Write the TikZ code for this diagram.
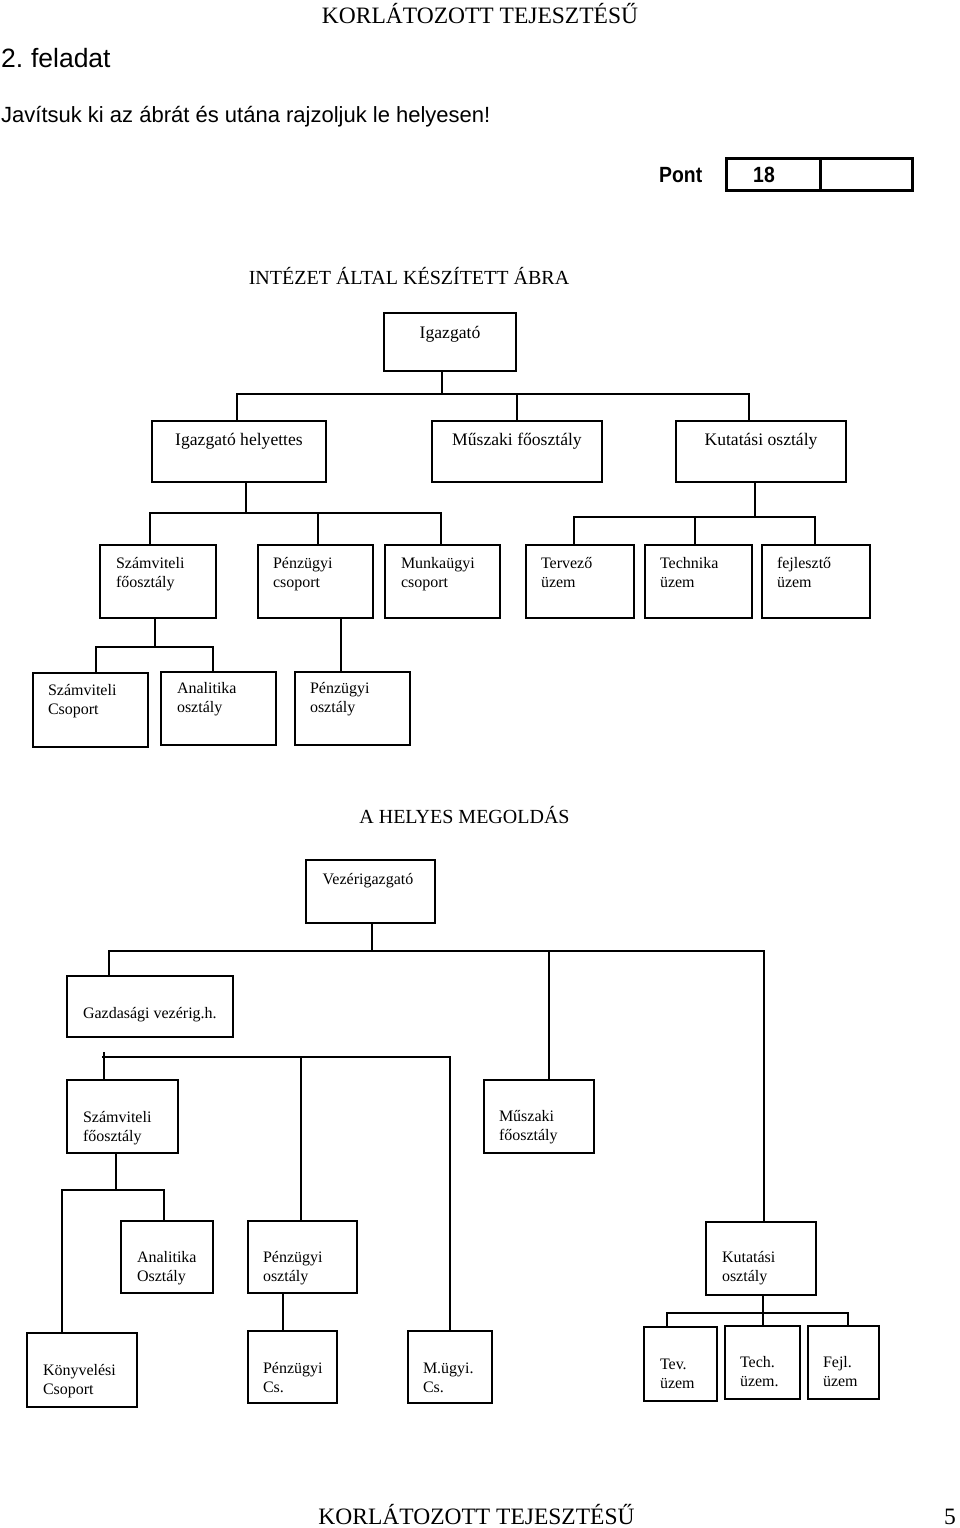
\documentclass[tikz,border=0pt]{standalone}
\usepackage{fontspec}
\setmainfont{Liberation Serif}
\newfontfamily\arialf{Liberation Sans}
\newcommand\twol[2]{\vtop{\hbox{#1}\hbox{#2}}}
\newcommand\bx[5]{\node[box, anchor=north west, minimum width={(#4-#2)*1pt}, minimum height={(#5-#3)*1pt}] (#1) at (#2,#3) {};}
\begin{document}
\begin{tikzpicture}[x=1pt,y=-1pt,
  box/.style={draw, line width=2.1pt, inner sep=0pt, outer sep=0pt},
  conn/.style={line width=1.9pt},
  big/.style={inner sep=0pt, outer sep=0pt, anchor=base, font=\fontsize{17.6}{21}\selectfont},
  lbl/.style={inner sep=0pt, outer sep=0pt, anchor=base west, font=\fontsize{16}{19}\selectfont},
  ttl/.style={inner sep=0pt, outer sep=0pt, anchor=base, font=\fontsize{20}{20}\selectfont},
  hdr/.style={inner sep=0pt, outer sep=0pt, anchor=base, font=\fontsize{23.5}{23.5}\selectfont}]
\useasboundingbox (0,0) rectangle (960,1528);

% header and footer
\node[hdr] (head) at (480,24) {KORLÁTOZOTT TEJESZTÉSŰ};
\node[hdr] (foot) at (476.5,1524) {KORLÁTOZOTT TEJESZTÉSŰ};
\node[hdr] (pnum) at (950,1524) {5};
\node[inner sep=0pt, anchor=base west, font=\arialf\fontsize{26.5}{26.5}\selectfont] (task) at (1,67) {\spaceskip=0.2em\relax 2. feladat};
\node[inner sep=0pt, anchor=base west, font=\arialf\fontsize{22}{22}\selectfont] (instr) at (1,122) {Javítsuk ki az ábrát és utána rajzoljuk le helyesen!};
\node[inner sep=0pt, anchor=base west, font=\arialf\bfseries\fontsize{22}{22}\selectfont] (pont) at (659,182) {\scalebox{0.88}[1]{Pont}};
\node[draw, line width=2.6pt, inner sep=0pt, anchor=north west, minimum width=94pt, minimum height=32pt] (pb1) at (725,157) {};
\node[draw, line width=2.6pt, inner sep=0pt, anchor=north west, minimum width=92pt, minimum height=32pt] (pb2) at (819,157) {};
\node[inner sep=0pt, anchor=base, font=\arialf\bfseries\fontsize{22}{22}\selectfont] (pts) at (764,182) {\scalebox{0.88}[1]{18}};

% ===== first diagram =====
\node[ttl] (t1) at (409,284.5) {INTÉZET ÁLTAL KÉSZÍTETT ÁBRA};
\bx{igz}{384}{313}{516}{371}
\bx{ih}{152}{421}{326}{482}
\bx{msz}{432}{421}{602}{482}
\bx{kut}{676}{421}{846}{482}
\bx{szf}{100}{545}{216}{618}
\bx{pcs}{258}{545}{373}{618}
\bx{mcs}{385}{545}{500}{618}
\bx{terv}{526}{545}{634}{618}
\bx{tech}{645}{545}{752}{618}
\bx{fejl}{762}{545}{870}{618}
\bx{szcs}{33}{673}{148}{747}
\bx{ana}{161}{672}{276}{745}
\bx{posz}{295}{672}{410}{745}

\node[big] at (450,338.5) {Igazgató};
\node[big] at (239,445.5) {Igazgató helyettes};
\node[big] at (517,445.5) {Műszaki főosztály};
\node[big] at (761,445.5) {Kutatási osztály};
\node[lbl] at (116,568) {\twol{Számviteli}{főosztály}};
\node[lbl] at (273,568) {\twol{Pénzügyi}{csoport}};
\node[lbl] at (401,568) {\twol{Munkaügyi}{csoport}};
\node[lbl] at (541,568) {\twol{Tervező}{üzem}};
\node[lbl] at (660,568) {\twol{Technika}{üzem}};
\node[lbl] at (777,568) {\twol{fejlesztő}{üzem}};
\node[lbl] at (48,695) {\twol{Számviteli}{Csoport}};
\node[lbl] at (177,693) {\twol{Analitika}{osztály}};
\node[lbl] at (310,693) {\twol{Pénzügyi}{osztály}};

\coordinate (j1) at (442,394);
\draw[conn] (igz.south -| j1) -- (j1);
\draw[conn] (ih.north -| 237,0) |- (j1) -| (kut.north -| 749,0);
\draw[conn] (msz.north) -- (msz.north |- j1);

\coordinate (j2) at (246,513);
\draw[conn] (ih.south -| j2) -- (j2);
\draw[conn] (szf.north -| 150,0) |- (j2) -| (mcs.north -| 441,0);
\draw[conn] (pcs.north -| 318,0) -- (318,513);

\coordinate (j3) at (755,517);
\draw[conn] (kut.south -| j3) -- (j3);
\draw[conn] (terv.north -| 574,0) |- (j3) -| (fejl.north -| 815,0);
\draw[conn] (tech.north -| 695,0) -- (695,517);

\coordinate (j4) at (155,647);
\draw[conn] (szf.south -| j4) -- (j4);
\draw[conn] (szcs.north -| 96,0) |- (j4) -| (ana.north -| 213,0);
\draw[conn] (pcs.south -| 341,0) -- (posz.north -| 341,0);

% ===== second diagram =====
\node[ttl] (t2) at (464.5,823.5) {A HELYES MEGOLDÁS};
\bx{vez}{306}{860}{435}{923}
\bx{gazd}{67}{976}{233}{1037}
\bx{szf2}{67}{1080}{178}{1153}
\bx{msz2}{484}{1080}{594}{1153}
\bx{ana2}{121}{1221}{213}{1293}
\bx{posz2}{248}{1221}{357}{1293}
\bx{kut2}{706}{1222}{816}{1295}
\bx{konyv}{27}{1333}{137}{1407}
\bx{pcs2}{248}{1331}{337}{1403}
\bx{mugy}{408}{1331}{492}{1403}
\bx{tev}{644}{1327}{717}{1401}
\bx{tech2}{725}{1326}{800}{1399}
\bx{fejl2}{808}{1326}{879}{1399}

\node[lbl, anchor=base] at (368,884) {Vezérigazgató};
\node[lbl] at (83,1018) {Gazdasági vezérig.h.};
\node[lbl] at (83,1122) {\twol{Számviteli}{főosztály}};
\node[lbl] at (499,1121) {\twol{Műszaki}{főosztály}};
\node[lbl] at (137,1262) {\twol{Analitika}{Osztály}};
\node[lbl] at (263,1262) {\twol{Pénzügyi}{osztály}};
\node[lbl] at (722,1262) {\twol{Kutatási}{osztály}};
\node[lbl] at (43,1375) {\twol{Könyvelési}{Csoport}};
\node[lbl] at (263,1373) {\twol{Pénzügyi}{Cs.}};
\node[lbl] at (423,1373) {\twol{M.ügyi.}{Cs.}};
\node[lbl] at (660,1369) {\twol{Tev.}{üzem}};
\node[lbl] at (740,1367) {\twol{Tech.}{üzem.}};
\node[lbl] at (823,1367) {\twol{Fejl.}{üzem}};

\coordinate (j5) at (372,951);
\draw[conn] (vez.south -| j5) -- (j5);
\draw[conn] (gazd.north -| 109,0) |- (j5) -| (kut2.north -| 764,0);
\draw[conn] (msz2.north -| 549,0) -- (549,951);

\coordinate (e6) at (102,1057);
\coordinate (j6) at (301,1057);
\draw[conn] (e6) -| (mugy.north -| 450,0);
\draw[conn] (szf2.north -| 104,0) -- (104,1052);
\draw[conn] (posz2.north -| j6) -- (j6);

\coordinate (j7) at (116,1190);
\draw[conn] (szf2.south -| j7) -- (j7);
\draw[conn] (konyv.north -| 62,0) |- (j7) -| (ana2.north -| 164,0);
\draw[conn] (posz2.south -| 283,0) -- (pcs2.north -| 283,0);

\coordinate (j8) at (763,1313);
\draw[conn] (kut2.south -| j8) -- (tech2.north -| j8);
\draw[conn] (tev.north -| 667,0) |- (j8) -| (fejl2.north -| 848,0);
\end{tikzpicture}
\end{document}
